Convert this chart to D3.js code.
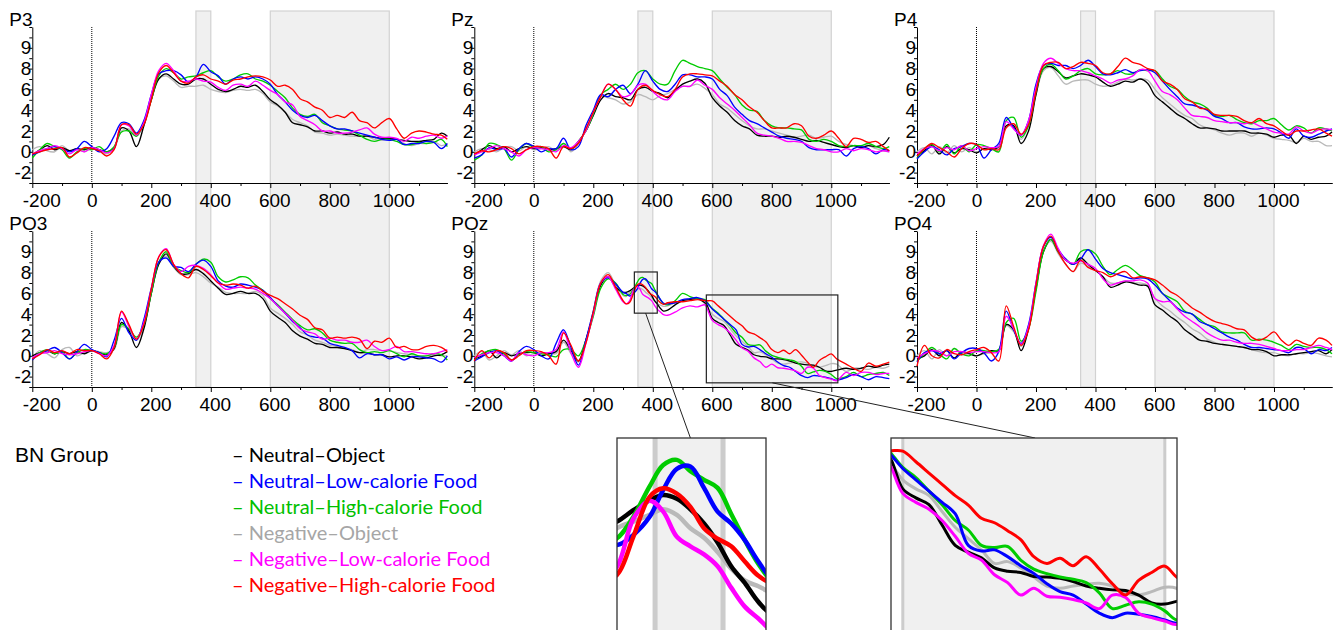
<!DOCTYPE html>
<html>
<head>
<meta charset="utf-8">
<script src="https://cdn.jsdelivr.net/npm/d3@7"></script>
<style>
  body { margin: 0; background: #fff; }
  svg { display: block; }
</style>
</head>
<body>
<script>
// ---- data ----
const times = [-200,-175,-150,-125,-100,-75,-50,-25,0, 25,50,75,100,125,150,175,200,
  225,250,275,300,325,350,375,400, 425,450,475,500,525,550,575,600,
  625,650,675,700,725,750,775,800, 825,850,875,900,925,950,975,1000,
  1025,1050,1075,1100,1125,1150,1175,1195];

const timesPOz = [-200,-175,-150,-125,-100,-75,-50,-25,0,25,50,75,100,125,150,175,200,225,250,275,300,
  310,322,334,346,356,366,376,386,396,406,416,426,436,
  450,475,500,525,550,575,
  582,600,620,640,660,680,700,720,740,760,780,800,820,840,860,880,900,920,940,960,980,1000,1018,
  1050,1075,1100,1125,1150,1175,1195];

const conditions = ['Neutral–Object', 'Neutral–Low-calorie Food', 'Neutral–High-calorie Food',
  'Negative–Object', 'Negative–Low-calorie Food', 'Negative–High-calorie Food'];
const colors = ['#000000', '#0000ff', '#00cc00', '#b9b9b9', '#ff00ff', '#ff0000'];
const legendColors = ['#000000', '#0000ff', '#00c000', '#a6a6a6', '#ff00ff', '#ff0000'];

const electrodes = ['P3', 'Pz', 'P4', 'PO3', 'POz', 'PO4'];

// each panel: [black, blue, green, gray, magenta, red]
const dataP3 = [
  [-0.3,0.2,0.6,0.2,0.4,0.1,0.3,0.2,0.4, 0.2,0.0,0.4,2.3,2.0,0.5,2.5,5.0, 7.0,7.5,7.0,6.5,6.5,7.0,7.0,6.5, 6.0,5.8,6.0,6.3,6.2,6.4,5.8,5.0, 4.5,3.8,2.8,2.6,2.4,2.0,2.0,1.8, 1.9,1.7,1.7,1.5,1.5,1.4,1.3,1.3, 1.2,1.1,1.0,1.0,1.1,1.2,1.8,1.5],
  [-0.3,0.0,0.3,0.5,0.3,0.0,0.3,1.0,0.5, 0.0,0.3,1.5,2.8,2.7,1.8,3.0,5.5, 7.5,7.8,7.8,7.4,6.7,7.2,8.4,7.7, 7.3,6.5,7.0,7.2,7.0,7.2,7.0,6.5, 5.5,4.8,4.0,3.5,3.3,3.5,3.0,2.5, 2.2,2.2,2.0,1.8,1.6,1.4,1.2,1.1, 1.2,0.7,0.8,0.8,1.0,0.9,0.3,0.8],
  [-0.6,0.2,0.8,0.5,0.2,-0.6,0.0,0.3,0.2, 0.5,0.0,0.5,1.9,2.0,1.5,2.8,5.0, 7.3,8.0,7.6,7.0,7.2,7.3,7.6,7.8, 7.2,6.8,7.0,7.4,7.5,7.0,6.8,6.4, 5.8,5.2,4.2,3.6,3.4,3.6,2.8,2.5, 2.2,2.1,2.0,1.6,1.2,1.0,1.2,1.2, 1.0,0.7,0.7,0.9,0.8,0.9,1.2,0.5],
  [0.2,0.5,0.1,0.0,0.6,0.1,0.3,0.0,0.3, 0.1,-0.2,0.3,2.0,2.2,1.5,2.6,5.0, 7.0,7.3,6.8,6.2,6.3,6.3,6.4,6.0, 5.8,5.7,5.9,6.0,5.9,6.0,5.6,4.8, 4.4,3.8,3.1,2.8,2.5,1.9,1.8,1.6, 1.7,1.6,1.5,1.5,1.5,1.2,1.1,1.3, 1.2,0.8,0.6,0.8,0.8,1.0,0.6,0.8],
  [-0.2,0.1,0.3,0.6,0.3,-0.2,0.2,0.0,0.4, 0.2,-0.1,0.3,2.6,2.5,1.6,2.8,5.5, 7.8,8.5,7.8,6.8,6.8,7.0,6.8,6.7, 6.2,5.9,6.4,6.5,6.3,6.8,6.4,5.9, 5.5,4.8,4.5,3.4,3.0,2.6,2.0,2.0, 1.8,1.8,1.9,2.1,2.3,1.7,1.4,1.4, 1.3,1.0,1.4,1.3,1.5,1.6,1.3,1.5],
  [-0.2,0.0,0.2,0.3,0.4,-0.5,-0.1,0.4,0.3, 0.1,-0.4,0.2,2.6,2.6,1.7,2.6,5.0, 7.6,8.3,7.6,6.8,6.6,7.2,7.4,7.0, 6.8,6.5,6.9,7.0,7.2,7.3,7.2,6.9, 6.3,6.4,6.0,5.1,4.8,4.3,4.0,3.3, 3.5,3.3,3.8,3.0,2.8,2.3,2.8,3.2, 2.2,1.3,1.8,2.0,1.9,1.7,1.6,1.2]
];

const dataPz = [
  [-0.3,0.2,0.6,0.3,0.5,0.0,0.3,0.5,0.3, 0.4,0.2,0.3,0.5,0.2,1.0,2.0,3.5, 5.0,5.6,5.3,5.2,5.0,6.0,6.2,5.8, 5.6,5.2,5.9,6.5,6.8,7.0,6.6,5.2, 4.4,3.8,3.0,2.5,2.2,1.6,1.5,1.5, 1.4,1.5,1.4,1.2,1.0,1.1,0.9,0.7, 0.5,0.4,0.6,0.4,0.6,0.5,0.7,1.4],
  [-0.6,-0.3,0.4,0.2,0.3,-0.5,0.3,0.8,0.5, 0.0,0.3,0.3,1.3,0.2,0.5,2.5,4.0, 5.5,5.3,6.0,6.4,5.6,6.5,7.8,6.8, 6.0,5.8,6.5,7.4,7.4,7.2,7.2,7.0, 6.0,5.4,4.3,3.6,3.0,2.7,2.3,1.9, 1.5,1.3,1.2,1.0,0.4,0.2,0.2,0.2, 0.2,-0.4,0.3,0.5,0.3,-0.2,0.2,0.1],
  [-0.8,-0.3,0.8,0.7,0.3,-0.8,0.2,0.8,0.4, 0.5,0.0,0.2,0.8,0.3,1.0,2.0,3.6, 5.5,6.0,6.5,6.0,6.5,7.6,7.8,7.0, 6.5,6.5,7.8,8.8,8.5,8.2,8.0,7.8, 7.0,6.2,5.5,4.5,4.0,3.9,3.0,2.5, 2.3,2.3,2.2,2.1,1.2,1.0,1.2,1.0, 0.6,0.5,0.6,0.6,0.8,0.5,0.3,0.5],
  [0.0,0.3,0.2,0.0,0.4,0.5,0.1,0.5,0.2, 0.3,0.5,0.1,0.8,0.0,0.8,2.2,3.6, 5.3,5.2,5.0,4.6,4.8,5.5,5.3,5.0, 5.4,5.6,6.0,6.3,6.3,6.5,6.1,5.5, 4.6,4.2,3.6,3.0,2.5,2.2,2.2,2.0, 1.8,1.6,1.4,1.5,1.6,1.3,1.4,1.5, 1.0,0.7,0.6,0.5,0.6,0.3,0.1,0.0],
  [-0.3,0.0,0.3,0.6,0.3,0.0,-0.4,0.2,0.4, 0.3,0.2,0.0,0.6,0.4,1.0,2.0,3.8, 5.3,6.5,6.0,5.3,5.5,6.4,6.5,5.8, 5.2,5.0,5.8,6.3,6.3,6.9,6.4,6.0, 5.2,4.6,4.0,3.3,2.6,1.8,1.6,1.5, 1.3,1.0,1.0,0.9,0.6,0.3,0.2,0.0, 0.0,0.3,0.1,0.3,0.2,0.0,0.1,0.0],
  [-0.2,0.1,0.0,0.2,0.5,0.3,-0.2,0.2,0.5, 0.5,0.3,-0.6,0.5,0.3,0.8,2.2,3.8, 5.3,6.5,6.0,5.0,4.4,6.0,6.4,5.9, 5.5,5.3,6.0,7.2,7.5,7.5,7.4,7.3, 6.8,6.3,5.5,5.0,4.3,3.8,3.0,2.3, 2.3,2.3,2.7,2.5,1.5,1.3,1.6,2.0, 1.3,0.5,1.3,1.2,0.9,1.0,0.5,0.1]
];

const dataP4 = [
  [-0.4,0.1,0.6,-0.2,0.5,-0.1,0.3,0.2,-0.1, 0.3,0.2,0.5,2.5,2.5,0.8,2.0,5.5, 8.0,8.2,7.7,7.1,7.3,7.5,7.4,7.2, 6.7,6.3,6.5,6.8,6.7,7.0,6.6,5.4, 4.8,4.2,3.6,3.2,2.7,2.3,2.3,2.2, 2.0,2.0,2.0,2.0,1.8,1.8,1.7,1.4, 1.6,1.6,0.8,1.5,1.2,1.4,1.5,1.9],
  [-0.7,0.0,0.5,0.2,-0.3,0.3,0.5,0.8,0.7, -0.6,0.2,0.8,3.3,2.3,1.6,3.0,6.5, 8.3,8.5,8.3,8.3,8.0,8.3,8.8,8.2, 7.5,7.4,7.6,7.9,7.6,7.8,7.9,7.6, 6.8,6.0,5.3,4.6,4.5,4.3,4.0,3.4, 3.2,2.8,2.8,2.4,2.2,2.2,2.3,2.2, 1.8,1.3,2.2,1.5,1.4,1.7,2.0,2.2],
  [-0.6,0.3,0.7,0.0,0.7,-0.2,0.6,0.0,0.7, 0.6,0.3,0.0,3.0,3.3,1.4,2.5,5.8, 8.0,8.4,7.8,7.0,7.3,7.8,8.0,7.5, 7.4,7.5,7.8,7.5,7.5,7.9,7.8,7.8, 7.0,6.3,6.0,5.3,4.8,4.6,4.2,3.5, 3.4,3.5,3.1,2.8,2.7,3.0,3.0,3.2, 2.6,2.1,2.5,2.3,1.8,2.3,2.2,2.0],
  [0.0,0.4,-0.2,0.5,-0.1,0.6,0.0,0.4,0.0, 0.3,0.4,0.3,2.4,2.4,1.2,2.5,5.5, 7.8,8.1,7.3,6.5,6.8,6.9,6.9,6.5, 6.3,6.4,6.7,7.0,6.9,7.0,6.9,6.0, 5.2,4.6,4.0,3.5,3.2,2.6,2.3,2.1, 1.8,1.6,1.8,1.8,1.5,1.8,1.6,1.3, 1.2,1.1,0.9,1.3,1.0,1.0,0.6,0.6],
  [-0.2,0.3,0.5,0.1,0.4,0.2,0.6,0.1,0.3, 0.5,0.4,0.5,2.9,2.2,1.6,3.0,6.2, 8.5,9.0,8.5,8.0,7.8,7.8,7.6,7.3, 7.0,6.6,6.9,7.0,7.3,7.9,7.8,6.8, 5.8,5.5,5.0,4.2,3.5,3.4,3.3,3.0, 2.9,2.8,2.8,2.7,2.8,2.5,2.2,1.9, 1.8,1.7,2.4,2.0,1.8,2.1,2.2,2.1],
  [-0.4,0.3,0.8,0.4,0.0,-0.5,0.3,0.8,0.7, 0.2,0.3,0.2,2.3,2.7,1.7,2.6,5.8, 8.3,8.6,8.6,8.0,8.2,8.6,8.5,8.3, 7.6,7.5,8.2,9.0,8.6,8.4,8.0,7.8, 6.8,6.5,6.0,5.1,4.8,4.2,4.1,3.6, 3.5,3.5,3.4,3.0,2.8,3.2,2.7,2.5, 2.0,1.6,2.0,2.0,2.1,2.2,1.8,1.5]
];

const dataPO3 = [
  [0.0,0.3,0.5,0.2,0.4,0.2,0.4,0.2,0.5, 0.3,0.1,0.7,3.2,2.4,0.8,2.6,6.0, 8.8,9.8,8.6,7.9,7.9,8.3,7.9,7.2, 6.5,5.9,6.0,6.2,6.0,6.0,5.5,4.3, 3.7,3.2,2.4,1.9,1.6,1.2,1.1,0.8, 0.8,0.7,0.5,0.3,0.3,0.1,0.1,-0.1, 0.0,0.0,-0.1,-0.3,-0.2,0.0,0.1,0.4],
  [-0.4,0.2,0.5,0.8,0.3,-0.3,0.4,1.1,0.6, 0.3,-0.1,1.5,3.6,2.2,1.5,3.5,6.5, 9.0,9.4,8.6,8.5,8.1,8.8,9.2,8.6, 7.2,6.7,6.6,6.9,6.8,6.6,6.3,5.6, 4.8,4.1,3.3,2.7,2.0,1.8,1.7,1.2, 1.0,0.8,0.5,-0.2,0.2,0.1,0.1,-0.3, -0.1,-0.4,-0.1,-0.1,-0.2,-0.3,-0.6,0.0],
  [-0.3,0.3,0.6,0.2,0.4,-0.3,0.3,0.6,0.5, 0.3,0.2,0.8,3.0,2.6,1.8,3.0,6.0, 9.0,10.0,8.6,8.2,8.0,8.8,9.3,9.0, 7.6,7.1,7.3,7.6,7.5,6.8,6.3,5.5, 4.9,4.2,3.5,2.9,2.5,2.6,2.2,1.5, 1.3,1.2,1.2,0.6,0.3,0.4,0.3,0.5, 0.2,-0.1,0.2,0.0,0.0,0.2,0.1,-0.4],
  [-0.2,0.5,0.2,-0.2,0.6,0.8,0.0,0.3,0.5, 0.4,0.3,0.6,2.8,2.5,1.5,2.8,6.0, 8.8,9.6,8.5,7.8,7.8,8.0,7.6,7.0, 6.6,6.1,6.0,6.0,6.0,6.2,5.8,4.6, 4.1,3.6,3.0,2.3,2.0,1.5,1.3,1.0, 0.9,0.7,0.6,0.3,0.6,0.6,0.5,0.5, 0.3,0.2,0.1,0.0,0.0,0.1,0.0,0.0],
  [-0.2,0.2,0.3,0.5,0.2,0.1,0.2,0.4,0.5, 0.2,0.0,1.0,4.2,2.8,1.6,3.2,6.4, 9.5,10.3,8.8,8.1,8.6,8.7,8.4,7.8, 7.0,6.4,6.5,6.6,6.5,6.4,6.0,5.5, 4.8,4.1,3.4,2.6,2.3,2.1,1.6,1.7, 1.5,1.5,1.3,1.3,1.5,0.9,0.5,0.6, 0.9,0.4,0.4,0.3,0.2,0.2,0.4,0.6],
  [-0.3,0.1,0.6,0.3,0.5,0.2,0.6,0.5,0.5, 0.2,-0.3,0.8,4.3,3.0,1.6,3.0,6.4, 9.5,10.2,8.8,7.9,7.5,8.6,8.3,7.7, 7.0,6.8,6.9,6.8,6.5,6.7,6.2,5.8, 5.5,5.0,4.5,3.9,3.5,2.7,2.5,1.7, 1.8,1.7,1.8,1.6,0.7,1.4,1.3,1.7, 0.8,0.9,0.6,0.6,0.9,1.0,0.8,0.4]
];

const dataPOz = [
  [-0.3,0.0,0.5,-0.2,0.3,0.0,0.2,0.3,0.3,0.0,0.2,0.4,1.5,0.5,-0.5,1.5,4.0,6.8,7.6,6.6,6.1,
   6.1,6.24,6.48,6.69,6.8,6.72,6.5,6.2,5.8,5.3,4.95,4.55,4.3, 4.4,4.9,5.3,5.4,5.5,5.1,
   4.9,3.6,3.2,2.9,2.0,1.1,0.8,0.55,0.1,-0.05,-0.1,-0.28,-0.3,-0.36,-0.5,-0.7,-0.8,-0.87,-0.9,-1.1,-1.45,-1.5,-1.38,
   -1.2,-1.3,-1.2,-1.0,-1.1,-0.9,-0.8],
  [-0.5,-0.1,0.3,0.5,0.0,-0.5,0.4,0.9,0.6,0.0,-0.3,1.2,2.5,0.8,-0.9,1.5,4.3,7.0,7.5,6.9,6.1,
   6.0,5.75,5.96,6.34,6.91,7.35,7.4,6.95,6.45,6.2,5.85,5.4,5.05, 5.0,5.1,5.4,5.5,5.6,5.3,
   5.1,4.5,4.0,3.5,3.0,2.5,1.1,0.85,0.9,0.6,0.2,-0.14,-0.6,-0.95,-1.1,-1.5,-1.9,-2.1,-1.9,-1.95,-2.05,-2.2,-2.35,
   -2.1,-1.8,-2.0,-2.3,-2.0,-2.1,-2.2],
  [-0.4,0.2,0.5,0.6,0.2,-0.4,0.1,0.4,0.3,0.2,0.1,-0.1,0.6,0.6,0.0,1.5,3.8,6.5,7.4,7.0,5.9,
   5.8,5.89,6.34,6.98,7.43,7.54,7.3,7.12,6.95,6.4,5.85,5.35,5.0, 4.9,5.3,6.0,5.7,5.5,5.4,
   5.18,4.55,4.1,3.5,2.9,2.2,1.78,1.1,1.0,1.05,0.45,0.05,-0.15,-0.3,-0.4,-0.55,-1.0,-1.7,-1.55,-1.4,-1.5,-1.8,-2.2,
   -2.0,-1.6,-2.0,-1.8,-1.7,-1.6,-1.9],
  [0.0,0.4,-0.4,0.0,0.5,0.1,0.5,0.0,0.2,0.3,0.3,0.2,1.3,0.2,-0.6,1.5,4.3,7.2,8.0,6.8,5.8,
   5.7,6.1,6.24,6.38,6.5,6.38,6.1,5.9,5.6,5.25,5.0,4.88,4.75, 4.8,5.1,5.3,5.5,5.6,5.0,
   4.73,4.0,3.6,3.3,2.6,1.9,1.4,0.9,0.3,0.38,0.1,-0.3,-0.7,-0.8,-0.7,-0.62,-0.58,-0.7,-1.0,-1.1,-0.95,-0.75,-0.8,
   -1.5,-1.2,-1.2,-1.3,-1.1,-1.2,-1.0],
  [-0.2,0.1,0.3,0.3,0.0,-0.5,0.3,0.1,0.0,0.3,0.3,0.6,2.3,0.3,-1.1,1.2,4.0,7.0,7.6,6.4,5.2,
   5.0,5.29,6.3,6.68,6.45,5.92,5.72,5.55,5.3,4.85,4.45,4.2,3.95, 3.9,4.2,4.6,4.8,4.7,4.9,
   4.58,3.4,3.0,2.7,2.2,1.5,0.75,0.45,-0.2,-0.55,-1.1,-0.8,-1.15,-1.2,-1.3,-1.45,-1.7,-1.1,-1.2,-1.9,-2.1,-2.25,-2.4,
   -1.6,-1.9,-1.6,-1.6,-1.8,-1.7,-1.7],
  [-0.5,0.5,-0.2,0.5,0.3,-0.4,0.0,0.5,0.5,0.4,0.0,-0.8,2.2,1.0,-0.5,1.2,4.2,7.0,7.8,6.6,5.3,
   5.0,5.12,5.92,6.76,6.94,6.83,6.55,6.1,5.88,5.72,5.4,5.1,4.95, 5.1,5.2,5.2,5.3,5.4,5.3,
   5.29,5.27,4.8,4.3,3.8,3.3,2.88,2.3,2.1,1.75,1.35,0.6,0.3,0.53,0.2,0.6,0.05,-0.6,-1.1,-0.45,-0.1,0.18,-0.3,
   -0.8,-1.2,-1.5,-0.7,-1.0,-0.8,-0.6]
];

const dataPO4 = [
  [-0.3,0.0,0.6,0.0,0.5,-0.2,0.4,0.2,0.0, 0.3,0.5,0.5,3.0,2.5,0.5,2.6,6.5, 10.0,11.2,10.0,9.2,8.8,9.4,8.8,8.2, 7.6,6.6,6.8,7.1,7.0,6.8,6.7,4.9, 4.4,3.8,3.3,2.5,2.0,1.5,1.4,1.2, 1.1,1.0,0.9,0.8,0.6,0.6,0.4,0.0, 0.1,0.1,0.2,0.3,0.4,0.5,0.2,0.6],
  [-0.6,0.3,0.5,0.2,0.5,-0.3,0.3,0.7,0.7, 0.3,-0.5,0.4,4.3,2.5,1.2,3.0,7.0, 10.5,11.4,10.2,9.3,8.8,9.3,10.2,9.3, 8.4,8.0,7.8,7.6,7.4,7.5,7.4,6.8, 6.0,5.3,4.6,4.2,4.0,3.3,3.0,2.6, 2.2,1.8,1.5,1.1,0.8,0.8,0.7,0.6, 0.5,0.3,0.8,0.7,0.2,0.6,0.5,0.8],
  [-0.5,0.2,0.8,0.2,-0.3,0.7,0.2,0.0,0.5, 0.5,0.4,0.6,3.2,3.6,1.4,2.6,6.2, 10.0,11.2,10.0,9.3,8.8,10.0,10.2,9.8, 8.6,7.8,8.3,8.7,8.3,7.7,7.5,7.1, 6.0,5.6,5.2,4.3,4.0,3.5,3.0,2.8, 2.3,2.2,2.2,2.2,1.5,1.6,1.5,1.3, 1.0,0.6,1.1,0.9,0.8,0.8,0.6,0.2],
  [0.0,0.5,-0.3,0.6,0.0,0.7,0.1,0.2,0.0, 0.2,0.3,0.6,2.9,2.3,0.9,2.6,6.5, 10.0,11.0,9.8,8.8,8.1,8.9,8.6,8.2, 7.6,7.0,7.0,7.2,7.0,7.0,6.8,5.5, 4.8,4.3,3.7,3.2,2.6,2.2,1.6,1.3, 1.1,1.0,0.9,0.8,0.6,0.4,0.3,0.3, 0.1,0.0,0.2,0.2,0.3,0.2,0.0,-0.1],
  [-0.2,0.2,0.5,0.4,0.0,0.4,0.4,0.3,0.4, 0.4,0.3,0.4,3.8,2.6,1.1,2.8,7.0, 10.6,11.7,10.3,9.2,8.9,9.1,8.8,8.4, 7.4,6.8,7.0,7.2,7.2,7.3,7.0,5.5, 5.2,5.2,4.5,3.8,3.3,2.8,2.2,1.8, 1.5,1.5,1.3,1.2,1.2,1.1,0.9,0.7, 0.5,0.5,0.6,0.6,0.8,1.0,0.8,0.6],
  [-1.0,1.0,0.0,-0.2,0.6,0.2,0.1,0.4,0.6, 0.8,0.3,-0.5,4.8,2.8,1.0,2.5,6.8, 10.5,11.5,10.0,8.8,8.1,9.2,8.5,8.2, 8.0,7.6,7.9,8.1,7.5,7.6,7.5,7.3, 6.8,6.2,5.8,5.2,4.6,4.2,3.7,3.3, 3.1,2.9,2.6,2.5,1.8,1.5,1.8,2.3, 1.5,1.0,1.5,1.2,1.0,1.7,1.5,1.0]
];

const panelData = { P3: dataP3, Pz: dataPz, P4: dataP4, PO3: dataPO3, POz: dataPOz, PO4: dataPO4 };
const panelTimes = { POz: timesPOz };

const yMinorTicks = d3.range(-3, 13);
const yTickValues = [-2, 0, 2, 4, 6, 8, 10];
const yTickLabels = ['-2', '0', '2', '4', '6', '8', '9'];
const xMinorTicks = [-100, 100, 300, 500, 700, 900, 1100];
const xTickValues = [-200, 0, 200, 400, 600, 800, 1000];
const xTickLabels = ['-200', '0', '200', '400', '600', '800', '1000'];
const bands = [[350, 400], [600, 1000]];

// zoomed views of POz
const insets = [
  { xDomain: [322, 431.6], band: [350, 400], yTop: 8.0, frameX: [338, 415], frameY: [4.1, 8.06], link: 376 },
  { xDomain: [582, 1018.6], band: [600, 1000], yTop: 5.85, frameX: [580, 1022], frameY: [-2.6, 5.85], link: 802 }
];

// ---- layout ----
const width = 1338, height = 630;
const font = '"Liberation Sans", Arial, sans-serif';
const colLeft = [32.3, 474.3, 917];
const rowBottom = [183, 387];
const plotW = 415, plotH = 156;
const drawOrder = [3, 0, 2, 1, 4, 5];

const svg = d3.select('body').append('svg')
  .attr('width', width)
  .attr('height', height);

const xScales = colLeft.map(l => d3.scaleLinear().domain([-200, 1195]).range([l, l + plotW]));

// shaded time windows, one strip per column from the top down to the lower axis
xScales.forEach(x => {
  bands.forEach(([a, b]) => {
    svg.append('rect')
      .attr('x', x(a)).attr('y', 11)
      .attr('width', x(b) - x(a)).attr('height', rowBottom[1] - 11)
      .attr('fill', '#f0f0f0')
      .attr('stroke', '#d2d2d2')
      .attr('stroke-width', 1.2);
  });
});

let pozScales = null;

electrodes.forEach((name, i) => {
  const col = i % 3, row = Math.floor(i / 3);
  const x = xScales[col];
  const y = d3.scaleLinear().domain([-3, 12]).range([rowBottom[row], rowBottom[row] - plotH]);
  const t = panelTimes[name] || times;
  const g = svg.append('g');

  g.append('text')
    .attr('x', x(-200) - 23)
    .attr('y', y(12) - 1)
    .attr('font-family', font)
    .attr('font-size', 19)
    .text(name);

  // stimulus onset
  g.append('line')
    .attr('x1', x(0)).attr('x2', x(0))
    .attr('y1', y(12)).attr('y2', y(-3))
    .attr('stroke', '#000')
    .attr('stroke-width', 1)
    .attr('stroke-dasharray', '1,1');

  // y axis
  g.append('g')
    .attr('transform', `translate(${x(-200)},0)`)
    .call(d3.axisLeft(y).tickValues(yMinorTicks).tickSize(3).tickSizeOuter(0).tickFormat(''));
  const yl = g.append('g')
    .attr('transform', `translate(${x(-200)},0)`)
    .call(d3.axisLeft(y).tickValues(yTickValues).tickSize(0).tickPadding(1)
      .tickFormat((d, k) => yTickLabels[k]));
  yl.select('.domain').remove();
  yl.selectAll('text').attr('font-family', font).attr('font-size', 19).attr('fill', '#000');

  // x axis
  g.append('g')
    .attr('transform', `translate(0,${y(-3)})`)
    .call(d3.axisBottom(x).tickValues(xMinorTicks).tickSize(3).tickSizeOuter(0).tickFormat(''));
  const xl = g.append('g')
    .attr('transform', `translate(0,${y(-3)})`)
    .call(d3.axisBottom(x).tickValues(xTickValues).tickSize(5).tickSizeOuter(0).tickPadding(6)
      .tickFormat((d, k) => xTickLabels[k]));
  xl.selectAll('text')
    .attr('font-family', font).attr('font-size', 19).attr('fill', '#000')
    .attr('dx', d => d === -200 ? 9 : d === 0 ? 0 : 4);

  const line = d3.line()
    .x((d, j) => x(t[j]))
    .y(d => y(d))
    .curve(d3.curveCatmullRom.alpha(0.5));

  drawOrder.forEach(k => {
    g.append('path')
      .datum(panelData[name][k])
      .attr('d', line)
      .attr('fill', 'none')
      .attr('stroke', colors[k])
      .attr('stroke-width', 1.35);
  });

  if (name === 'POz') pozScales = { x, y, t };
});

// ---- insets ----
const insetBoxes = [
  { x0: 617, x1: 766, top: 438, pxPerUnit: 47.5, h: 280, edge: 5, lw: 4.5 },
  { x0: 891, x1: 1177, top: 438, pxPerUnit: 22.6, h: 215, edge: 3, lw: 3 }
];

insets.forEach((ins, n) => {
  const box = insetBoxes[n];
  const ix = d3.scaleLinear().domain(ins.xDomain).range([box.x0, box.x1]);
  const iy = d3.scaleLinear().domain([ins.yTop, ins.yTop - box.h / box.pxPerUnit]).range([box.top, box.top + box.h]);
  const px = pozScales.x, py = pozScales.y;

  // marker rectangle in POz
  svg.append('rect')
    .attr('x', px(ins.frameX[0])).attr('y', py(ins.frameY[1]))
    .attr('width', px(ins.frameX[1]) - px(ins.frameX[0]))
    .attr('height', py(ins.frameY[0]) - py(ins.frameY[1]))
    .attr('fill', 'none').attr('stroke', '#222').attr('stroke-width', 1.2);

  // connector
  svg.append('line')
    .attr('x1', px(ins.link)).attr('y1', py(ins.frameY[0]))
    .attr('x2', ix(ins.link)).attr('y2', box.top)
    .attr('stroke', '#222').attr('stroke-width', 1);

  const clipId = 'clip' + n;
  svg.append('clipPath').attr('id', clipId)
    .append('rect').attr('x', box.x0).attr('y', box.top)
    .attr('width', box.x1 - box.x0).attr('height', box.h);

  const g = svg.append('g').attr('clip-path', `url(#${clipId})`);
  g.append('rect').attr('x', box.x0).attr('y', box.top)
    .attr('width', box.x1 - box.x0).attr('height', box.h).attr('fill', '#fff');
  g.append('rect').attr('x', ix(ins.band[0])).attr('y', box.top)
    .attr('width', ix(ins.band[1]) - ix(ins.band[0])).attr('height', box.h).attr('fill', '#f0f0f0');
  ins.band.forEach(b => {
    g.append('line')
      .attr('x1', ix(b)).attr('x2', ix(b))
      .attr('y1', box.top).attr('y2', box.top + box.h)
      .attr('stroke', '#cccccc').attr('stroke-width', box.edge);
  });

  const t = pozScales.t;
  const line = d3.line()
    .x((d, j) => ix(t[j]))
    .y(d => iy(d))
    .curve(d3.curveCatmullRom.alpha(0.5));
  drawOrder.forEach(k => {
    g.append('path')
      .datum(dataPOz[k])
      .attr('d', line)
      .attr('fill', 'none')
      .attr('stroke', colors[k])
      .attr('stroke-width', box.lw)
      .attr('stroke-linejoin', 'round');
  });

  svg.append('rect')
    .attr('x', box.x0).attr('y', box.top)
    .attr('width', box.x1 - box.x0).attr('height', box.h)
    .attr('fill', 'none').attr('stroke', '#333').attr('stroke-width', 1.3);
});

// ---- legend ----
svg.append('text')
  .attr('x', 15).attr('y', 462)
  .attr('font-family', font).attr('font-size', 21)
  .text('BN Group');

conditions.forEach((c, k) => {
  svg.append('text')
    .attr('x', 232).attr('y', 462 + k * 26)
    .attr('font-family', 'Lato, "Open Sans", sans-serif')
    .attr('font-size', 20)
    .attr('fill', legendColors[k])
    .text('– ' + c);
});
</script>
</body>
</html>
